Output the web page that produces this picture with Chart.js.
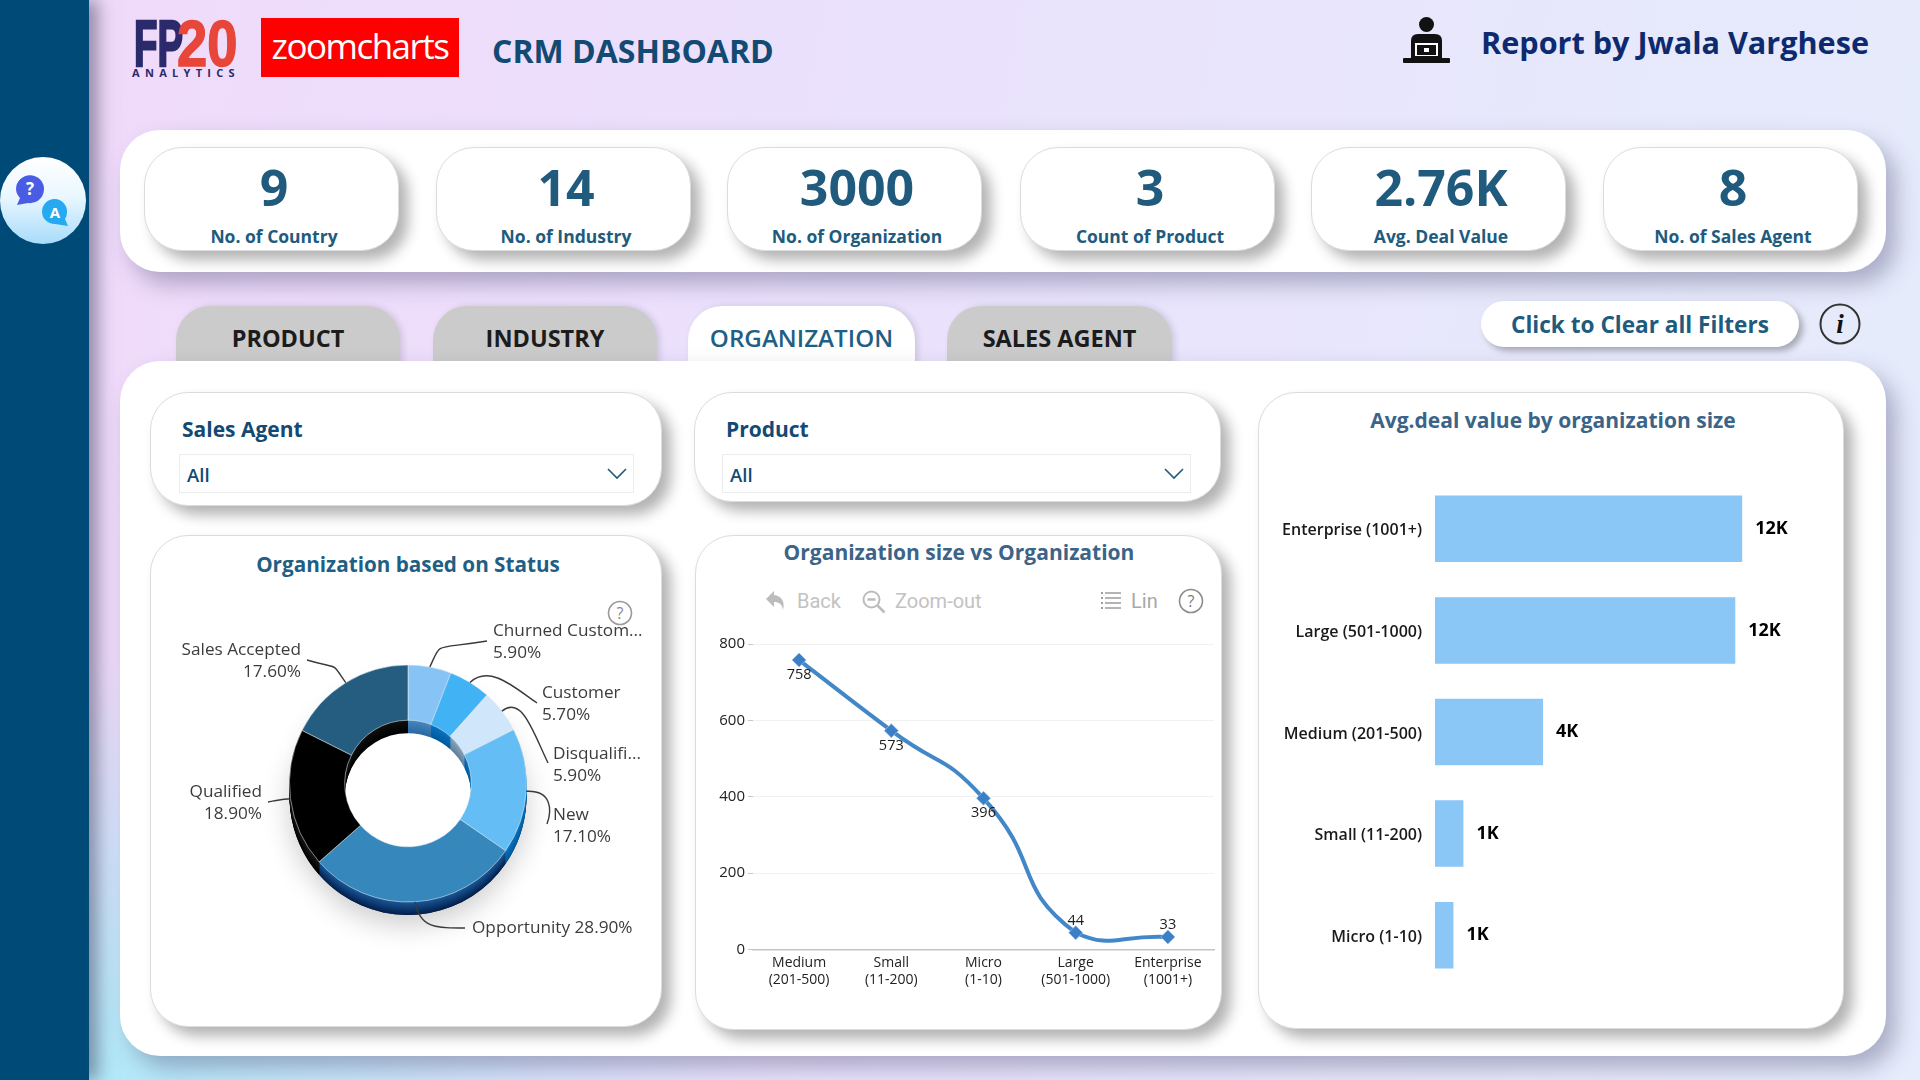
<!DOCTYPE html>
<html>
<head>
<meta charset="utf-8">
<title>CRM Dashboard</title>
<script src="https://cdn.jsdelivr.net/npm/chart.js@4"></script>
<style>
  html, body { margin: 0; padding: 0; }
  body {
    width: 1920px; height: 1080px; position: relative; overflow: hidden;
    font-family: "Open Sans", sans-serif;
    background:
      radial-gradient(ellipse 700px 420px at 60px 1080px, #aeeaf8 0%, rgba(174,234,248,0) 100%),
      linear-gradient(100deg, #f1d9fa 0%, #ecdffc 30%, #e8e6fc 65%, #e5ecfb 100%);
  }
  .abs { position: absolute; }
  .sidebar { left: 0; top: 0; width: 89px; height: 1080px; background: #004a78; box-shadow: 9px 0 16px rgba(60,60,90,.5); }
  .avatar { left: 0; top: 157px; width: 86px; height: 87px; border-radius: 50%; background: linear-gradient(180deg, #ffffff 0%, #eaf7ff 45%, #a8dcfb 100%); }
  .panel { background: #fff; border-radius: 40px; box-shadow: 10px 12px 22px rgba(70,70,110,.38); }
  .card { background: #fff; border-radius: 38px; border: 1px solid #dcdcdc; box-sizing: border-box; box-shadow: 9px 9px 14px rgba(0,0,0,.3); }
  .kpi-value { position: absolute; left: 5px; right: 0; top: 3px; text-align: center; font-size: 50px; font-weight: 700; color: #205b7e; line-height: 72px; }
  .kpi-label { position: absolute; left: 5px; right: 0; top: 75px; text-align: center; font-size: 17.5px; font-weight: 700; color: #205b7e; line-height: 26px; white-space: nowrap; }
  .tab { top: 306px; height: 80px; border-radius: 34px 34px 0 0; background: #cbcbcb; text-align: center; font-size: 23.5px; font-weight: 700; line-height: 64px; color: #1c1c1c; box-shadow: 3px 0 6px rgba(0,0,0,.12); }
  .tab.on { background: #fff; color: #1f5f85; font-weight: 600; font-size: 24.2px; }
  .title { text-align: center; font-weight: 700; white-space: nowrap; }
  .slicer-title { font-size: 21px; font-weight: 700; color: #124a73; line-height: 30px; }
  .dropdown { height: 39px; border: 1px solid #ececec; box-sizing: border-box; background: #fff; font-size: 18.5px; font-weight: 600; color: #124a73; line-height: 40px; padding-left: 7px; }
  .dropdown svg { position: absolute; top: 13px; right: 6px; }
  .tool { font-family: Roboto, sans-serif; font-size: 20px; color: #c2c2c2; line-height: 26px; white-space: nowrap; }
  canvas { position: absolute; }
</style>
</head>
<body>
<div class="abs sidebar"></div>
<div class="abs avatar"></div>
<svg class="abs" style="left:13px;top:174px" width="62" height="58" viewBox="0 0 62 58">
  <path d="M3 15a14 14 0 1 1 12 14l-11 2 3-7a14 14 0 0 1-4-9z" fill="#4a5ce4"/>
  <text x="17" y="21" text-anchor="middle" font-family="Open Sans" font-size="17" font-weight="700" fill="#fff">?</text>
  <path d="M54 38a12.500 12.500 0 1 0-12 12l13 2-3-7a12 12 0 0 0 2-7z" fill="#27a9f2"/>
  <text x="42" y="44" text-anchor="middle" font-family="Open Sans" font-size="15" font-weight="700" fill="#fff">A</text>
</svg>

<!-- Header: brand marks, dashboard name, author -->
<div class="abs" style="left:134px;top:0;width:106px;height:80px;overflow:visible">
  <div class="abs" style="left:0;top:9px;font-family:'Liberation Sans';font-weight:700;font-size:64px;line-height:70px;color:#2b2a6b;-webkit-text-stroke:2.5px #2b2a6b;transform:scaleX(.6);transform-origin:0 0">FP</div>
  <div class="abs" style="left:43px;top:9px;font-family:'Liberation Sans';font-weight:700;font-size:64px;line-height:70px;color:#e8463a;-webkit-text-stroke:1.5px #e8463a;transform:scaleX(.85);transform-origin:0 0">20</div>
  <div class="abs" style="left:-2px;top:66px;font-family:'Open Sans';font-weight:700;font-size:11px;letter-spacing:5.3px;line-height:14px;color:#2b2a6b;white-space:nowrap">ANALYTICS</div>
</div>
<div class="abs" style="left:261px;top:18px;width:198px;height:59px;background:#fe0000;color:#fff;text-align:center;font-family:'Open Sans';font-size:35px;line-height:56px;letter-spacing:-1.5px;font-weight:400">zoomcharts</div>
<div class="abs" style="left:492px;top:29px;font-size:32px;font-weight:700;line-height:44px;color:#124a73;white-space:nowrap">CRM DASHBOARD</div>
<svg class="abs" style="left:1403px;top:17px" width="47" height="47" viewBox="0 0 47 47">
  <circle cx="23.500" cy="7.500" r="7.500" fill="#111"/>
  <path d="M8 41V24q0-7 7-7h17q7 0 7 7v17z" fill="#111"/>
  <rect x="0" y="41" width="47" height="5" rx="1" fill="#111"/>
  <rect x="12" y="26" width="23" height="13" fill="#fff"/><rect x="14" y="28" width="19" height="10" fill="#111"/>
  <rect x="21" y="31" width="5" height="4" fill="#fff"/>
</svg>
<div class="abs" style="left:1481px;top:19px;font-size:30.600px;font-weight:700;line-height:46px;color:#0d2a6e;white-space:nowrap">Report by Jwala Varghese</div>

<!-- KPI strip -->
<div class="abs panel" style="left:120px;top:130px;width:1766px;height:142px"></div>
<div id="kpis"></div>

<!-- Page tabs and filter controls -->
<div id="tabs"></div>
<div class="abs" style="left:1481px;top:301px;width:318px;height:46px;border-radius:24px;background:#fff;box-shadow:4px 4px 6px rgba(0,0,0,.28);text-align:center;font-size:22.600px;font-weight:700;line-height:48px;color:#205b7e;white-space:nowrap">Click to Clear all Filters</div>
<svg class="abs" style="left:1819px;top:303px" width="42" height="42" viewBox="0 0 42 42">
  <circle cx="21" cy="21" r="19.500" fill="none" stroke="#333" stroke-width="2"/>
  <text x="21" y="30" text-anchor="middle" font-family="Liberation Serif" font-style="italic" font-weight="700" font-size="27" fill="#111">i</text>
</svg>

<!-- Main panel -->
<div class="abs panel" style="left:120px;top:361px;width:1766px;height:695px"></div>

<!-- Slicers -->
<div class="abs card" style="left:150px;top:392px;width:512px;height:114px"></div>
<div class="abs slicer-title" style="left:182px;top:414px">Sales Agent</div>
<div class="abs dropdown" style="left:179px;top:454px;width:455px">All<svg width="20" height="12" viewBox="0 0 20 12"><path d="M1 1l9 9 9-9" fill="none" stroke="#205b7e" stroke-width="1.600"/></svg></div>
<div class="abs card" style="left:694px;top:392px;width:527px;height:110px"></div>
<div class="abs slicer-title" style="left:726px;top:414px">Product</div>
<div class="abs dropdown" style="left:722px;top:454px;width:469px">All<svg width="20" height="12" viewBox="0 0 20 12"><path d="M1 1l9 9 9-9" fill="none" stroke="#205b7e" stroke-width="1.600"/></svg></div>

<!-- Chart cards -->
<div class="abs card" style="left:150px;top:535px;width:512px;height:492px"></div>
<div class="abs title" style="left:150px;top:546px;width:516px;font-size:20.700px;line-height:36px;color:#1f5f85">Organization based on Status</div>
<svg class="abs" style="left:607px;top:600px" width="26" height="26" viewBox="0 0 26 26">
  <circle cx="13" cy="13" r="11.500" fill="#fff" stroke="#9a9a9a" stroke-width="1.600"/>
  <text x="13" y="19" text-anchor="middle" font-family="Open Sans" font-size="16" fill="#8a8a8a">?</text>
</svg>

<div class="abs card" style="left:695px;top:535px;width:527px;height:495px"></div>
<div class="abs title" style="left:695px;top:534px;width:528px;font-size:21px;line-height:36px;color:#3b6488">Organization size vs Organization</div>
<svg class="abs" style="left:764px;top:589px" width="24" height="24" viewBox="0 0 24 24"><path d="M10 2L2 10l8 8v-5c5 0 8 2 9 8 2-8-1-14-9-15z" fill="#bcbcbc"/></svg>
<div class="abs tool" style="left:797px;top:588px">Back</div>
<svg class="abs" style="left:861px;top:589px" width="26" height="26" viewBox="0 0 26 26"><circle cx="10.500" cy="10.500" r="8" fill="none" stroke="#bcbcbc" stroke-width="2"/><path d="M6.500 10.500h8M16.500 16.500l7 7" stroke="#bcbcbc" stroke-width="2.500" fill="none"/></svg>
<div class="abs tool" style="left:895px;top:588px">Zoom-out</div>
<svg class="abs" style="left:1100px;top:590px" width="22" height="22" viewBox="0 0 22 22"><path d="M5 3h16M5 8h16M5 13h16M5 18h16" stroke="#9c9c9c" stroke-width="1.600"/><path d="M1 3h2M1 8h2M1 13h2M1 18h2" stroke="#9c9c9c" stroke-width="2"/></svg>
<div class="abs tool" style="left:1131px;top:588px;color:#a8a8a8">Lin</div>
<svg class="abs" style="left:1178px;top:588px" width="26" height="26" viewBox="0 0 26 26">
  <circle cx="13" cy="13" r="11.500" fill="#fff" stroke="#8c8c8c" stroke-width="1.600"/>
  <text x="13" y="19" text-anchor="middle" font-family="Open Sans" font-size="16" fill="#7c7c7c">?</text>
</svg>

<div class="abs card" style="left:1258px;top:392px;width:586px;height:637px"></div>
<div class="abs title" style="left:1258px;top:402px;width:590px;font-size:21px;line-height:36px;color:#3b6488">Avg.deal value by organization size</div>

<canvas id="donut" style="left:150px;top:590px"></canvas>
<canvas id="line" style="left:695px;top:620px"></canvas>
<canvas id="bars" style="left:1258px;top:478px"></canvas>

<script>
// Headline figures
const kpiValues = ['9', '14', '3000', '3', '2.76K', '8'];
const kpiLabels = ['No. of Country', 'No. of Industry', 'No. of Organization', 'Count of Product', 'Avg. Deal Value', 'No. of Sales Agent'];

// Page tabs
const tabLabels = ['PRODUCT', 'INDUSTRY', 'ORGANIZATION', 'SALES AGENT'];

// Share of organizations per status, clockwise from twelve o'clock
const statusLabels = ['Churned Custom...', 'Customer', 'Disqualifi...', 'New', 'Opportunity', 'Qualified', 'Sales Accepted'];
const statusShares = [5.9, 5.7, 5.9, 17.1, 28.9, 18.9, 17.6];
const statusColors = ['#87c4f5', '#41b2f3', '#cfe6fb', '#64bdf4', '#3688bc', '#000000', '#245d80'];
const statusWallTop = ['#4a86bd', '#0b74bf', '#8aa6bf', '#0b74bf', '#1b5a9a', '#1a1a1a', '#111111'];
const statusWallBottom = ['#2b6aa3', '#005b9e', '#5f7f9b', '#005b9e', '#04214f', '#000000', '#000000'];

// Organization count per size band
const sizeLabels = [['Medium', '(201-500)'], ['Small', '(11-200)'], ['Micro', '(1-10)'], ['Large', '(501-1000)'], ['Enterprise', '(1001+)']];
const sizeCounts = [758, 573, 396, 44, 33];

// Average deal value per size band
const dealLabels = ['Enterprise (1001+)', 'Large (501-1000)', 'Medium (201-500)', 'Small (11-200)', 'Micro (1-10)'];
const dealValues = [12000, 11730, 4220, 1110, 720];

// Build the repeated DOM pieces
const kpiLefts = [144, 436, 727, 1020, 1311, 1603];
document.getElementById('kpis').innerHTML = kpiValues.map((v, i) =>
  `<div class="abs card" style="left:${kpiLefts[i]}px;top:147px;width:255px;height:104px"><div class="kpi-value">${v}</div><div class="kpi-label">${kpiLabels[i]}</div></div>`).join('');
const tabBoxes = [[176, 224], [433, 224], [688, 227], [947, 225]];
document.getElementById('tabs').innerHTML = tabLabels.map((t, i) =>
  `<div class="abs tab${i === 2 ? ' on' : ''}" style="left:${tabBoxes[i][0]}px;width:${tabBoxes[i][1]}px">${t}</div>`).join('');

Chart.defaults.animation = false;
Chart.defaults.responsive = false;
Chart.defaults.font.family = '"Open Sans", sans-serif';
Chart.defaults.plugins.legend.display = false;
Chart.defaults.plugins.tooltip.enabled = false;

function sizeCanvas(id, w, h) {
  const c = document.getElementById(id);
  c.width = w; c.height = h;
  c.style.width = w + 'px'; c.style.height = h + 'px';
  return c;
}

function mix(a, b, t) {
  const p = s => [1, 3, 5].map(i => parseInt(s.substr(i, 2), 16));
  const A = p(a), B = p(b);
  return `rgb(${A.map((v, i) => Math.round(v + (B[i] - v) * t)).join(',')})`;
}

// Extruded side wall of the ring: the same arcs redrawn below the face, darker
const ringDepth = {
  id: 'ringDepth',
  beforeDatasetsDraw(chart) {
    const { ctx } = chart;
    const arcs = chart.getDatasetMeta(0).data;
    const depth = 13;
    const path = (a) => {
      const { x, y, startAngle, endAngle, innerRadius, outerRadius } = a.getProps(['x', 'y', 'startAngle', 'endAngle', 'innerRadius', 'outerRadius']);
      ctx.beginPath();
      ctx.arc(x, y, outerRadius, startAngle, endAngle);
      ctx.arc(x, y, innerRadius, endAngle, startAngle, true);
      ctx.closePath();
    };
    ctx.save();
    ctx.save();
    ctx.translate(0, depth);
    ctx.shadowColor = 'rgba(0,0,0,.2)';
    ctx.shadowBlur = 28;
    ctx.shadowOffsetY = 10;
    ctx.fillStyle = '#222';
    arcs.forEach(a => { path(a); ctx.fill(); });
    ctx.restore();
    // keep the hole clean of the cast shadow
    const c = arcs[0];
    ctx.fillStyle = '#fff';
    ctx.beginPath();
    ctx.arc(c.x, c.y, c.innerRadius, 0, Math.PI * 2);
    ctx.fill();
    for (let off = depth; off >= 1; off--) {
      ctx.save();
      ctx.translate(0, off);
      arcs.forEach((a, i) => {
        ctx.fillStyle = mix(statusWallTop[i], statusWallBottom[i], off / depth);
        path(a);
        ctx.fill();
      });
      ctx.restore();
    }
    ctx.restore();
  }
};

// Callouts: each starts on the rim at the slice's mid-angle and curves to its text
const callouts = [
  { side: 'l', text: [493, 631], end: [487, 641], c1: [442, 641], c2: [432, 650] },
  { side: 'l', text: [542, 693], end: [537, 703], c1: [490, 664], c2: [515, 688] },
  { side: 'l', text: [553, 754], end: [548, 763], c1: [522, 695], c2: [533, 732] },
  { side: 'l', text: [553, 815], end: [547, 824], c1: [552, 790], c2: [552, 810] },
  { side: 'l', text: [472, 928], oneLine: true, end: [465, 928], c1: [420, 930], c2: [440, 928] },
  { side: 'r', text: [262, 792], end: [268, 802], c1: [278, 800], c2: [284, 799] },
  { side: 'r', text: [301, 650], end: [307, 660], c1: [330, 660], c2: [340, 670] }
];
const ringLabels = {
  id: 'ringLabels',
  afterDatasetsDraw(chart) {
    const { ctx } = chart;
    const canvasBox = chart.canvas.getBoundingClientRect();
    const ox = canvasBox.left, oy = canvasBox.top;
    chart.getDatasetMeta(0).data.forEach((a, i) => {
      const cfg = callouts[i];
      const mid = (a.startAngle + a.endAngle) / 2;
      const sx = a.x + Math.cos(mid) * a.outerRadius;
      const sy = a.y + Math.sin(mid) * a.outerRadius;
      ctx.save();
      ctx.strokeStyle = '#3a3a3a';
      ctx.lineWidth = 1.4;
      ctx.beginPath();
      ctx.moveTo(sx, sy);
      ctx.bezierCurveTo(cfg.c1[0] - ox, cfg.c1[1] - oy, cfg.c2[0] - ox, cfg.c2[1] - oy, cfg.end[0] - ox, cfg.end[1] - oy);
      ctx.stroke();
      ctx.fillStyle = '#3c3c3c';
      ctx.font = '17.2px "Open Sans"';
      ctx.textBaseline = 'middle';
      ctx.textAlign = cfg.side === 'l' ? 'left' : 'right';
      const pct = statusShares[i].toFixed(2) + '%';
      const tx = cfg.text[0] - ox, ty = cfg.text[1] - oy;
      if (cfg.oneLine) {
        ctx.fillText(statusLabels[i] + ' ' + pct, tx, ty);
      } else {
        ctx.fillText(statusLabels[i], tx, ty);
        ctx.fillText(pct, tx, ty + 22);
      }
      ctx.restore();
    });
  }
};

sizeCanvas('donut', 512, 430);
new Chart('donut', {
  type: 'doughnut',
  data: { labels: statusLabels, datasets: [{ data: statusShares, backgroundColor: statusColors, borderColor: 'rgba(225,235,240,.55)', borderWidth: 1 }] },
  options: { cutout: '53.4%', layout: { padding: { left: 139, right: 135, top: 74.5, bottom: 117.5 } } },
  plugins: [ringDepth, ringLabels]
});

// Point values: above the marker for the two smallest bands, below otherwise
const pointValues = {
  id: 'pointValues',
  afterDatasetsDraw(chart) {
    const { ctx } = chart;
    ctx.save();
    ctx.fillStyle = '#1c1c1c';
    ctx.font = '14.5px "Open Sans"';
    ctx.textAlign = 'center';
    ctx.textBaseline = 'middle';
    chart.getDatasetMeta(0).data.forEach((p, i) => {
      const above = sizeCounts[i] < 100;
      ctx.fillText(String(sizeCounts[i]), p.x, p.y + (above ? -12 : 15));
    });
    ctx.restore();
  }
};

sizeCanvas('line', 527, 395);
new Chart('line', {
  type: 'line',
  data: {
    labels: sizeLabels,
    datasets: [{
      data: sizeCounts, borderColor: '#4287c8', borderWidth: 4, tension: 0.55,
      pointStyle: 'rectRot', pointRadius: 7, pointBackgroundColor: '#3b7fc6', pointBorderColor: 'rgba(150,190,230,.7)', pointBorderWidth: 1, clip: false
    }]
  },
  options: {
    layout: { padding: { top: 24, right: 4, bottom: 0, left: 0 } },
    scales: {
      x: {
        offset: true,
        grid: { display: false },
        border: { color: '#c4c4c4', width: 1.5 },
        ticks: { color: '#222', font: { size: 14 }, maxRotation: 0, padding: -3, autoSkip: false },
        afterFit(s) { s.height = 65.5; }
      },
      y: {
        min: 0, max: 800,
        grid: { color: '#f1f1f1', tickLength: 5, tickColor: '#c8c8c8', drawTicks: true },
        border: { display: false },
        ticks: { color: '#222', font: { size: 15 }, stepSize: 200, padding: 3 },
        afterFit(s) { s.width = 58; }
      }
    }
  },
  plugins: [pointValues]
});

// Rounded thousands printed at the end of every bar
const barValues = {
  id: 'barValues',
  afterDatasetsDraw(chart) {
    const { ctx } = chart;
    ctx.save();
    ctx.fillStyle = '#000';
    ctx.font = '700 18px "Open Sans"';
    ctx.textBaseline = 'middle';
    chart.getDatasetMeta(0).data.forEach((b, i) => {
      ctx.fillText(Math.round(dealValues[i] / 1000) + 'K', b.x + 13, b.y);
    });
    ctx.restore();
  }
};

sizeCanvas('bars', 561, 508);
new Chart('bars', {
  type: 'bar',
  data: { labels: dealLabels, datasets: [{ data: dealValues, backgroundColor: '#8ac6f6', categoryPercentage: 1, barPercentage: 0.655 }] },
  options: {
    indexAxis: 'y',
    layout: { padding: 0 },
    scales: {
      x: { display: false, min: 0, max: 15000 },
      y: {
        grid: { display: false },
        border: { display: false },
        ticks: { color: '#1a1a1a', font: { size: 16, weight: 600 }, padding: 5, labelOffset: 2 },
        // tick padding and label height must not inset the plot vertically
        afterFit(s) { s.width = 177; s.paddingTop = 0; s.paddingBottom = 0; }
      }
    }
  },
  plugins: [barValues]
});
</script>
</body>
</html>
